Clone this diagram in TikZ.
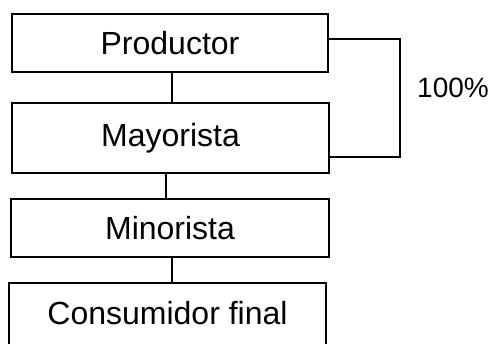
\documentclass[tikz,border=0pt]{standalone}
\usepackage{fontspec}
\setmainfont{Liberation Sans}
\usetikzlibrary{calc}
\begin{document}
\begin{tikzpicture}[x=1pt,y=-1pt,
  stagebox/.style={draw=black,line width=1.3pt,fill=white,inner sep=0pt,
    font=\fontsize{32}{38}\selectfont},
  link/.style={draw=black,line width=1.3pt}]
\useasboundingbox (0,0) rectangle (493,344);
\clip (0,0) rectangle (493,344);
\node[stagebox,minimum width=316pt,minimum height=58pt] (prod) at (170,43) {Productor};
\node[stagebox,minimum width=317pt,minimum height=70pt] (may) at (170.5,138) {\raisebox{2pt}{Mayorista}};
\node[stagebox,minimum width=318pt,minimum height=58pt] (min) at (170,228) {Minorista};
\node[stagebox,minimum width=317pt,minimum height=70pt] (cons) at (167.5,318) {\raisebox{10pt}{Consumidor final}};
\draw[link] ($(prod.south)+(2,0)$) -- ($(may.north)+(1.5,0)$);
\draw[link] ($(may.south)+(-4.5,0)$) -- ($(min.north)+(-4,0)$);
\draw[link] ($(min.south)+(2,0)$) -- ($(cons.north)+(4.5,0)$);
\coordinate (bkA) at ($(prod.east)+(0,-4)$);
\coordinate (bkD) at ($(may.east)+(0,19)$);
\coordinate (bkB) at (400,39);
\coordinate (bkC) at (400,157);
\draw[link] (bkA) -- (bkB) -- (bkC) -- (bkD);
\node[font=\fontsize{28}{32}\selectfont] (pct) at (453,88) {100\%};
\end{tikzpicture}
\end{document}
